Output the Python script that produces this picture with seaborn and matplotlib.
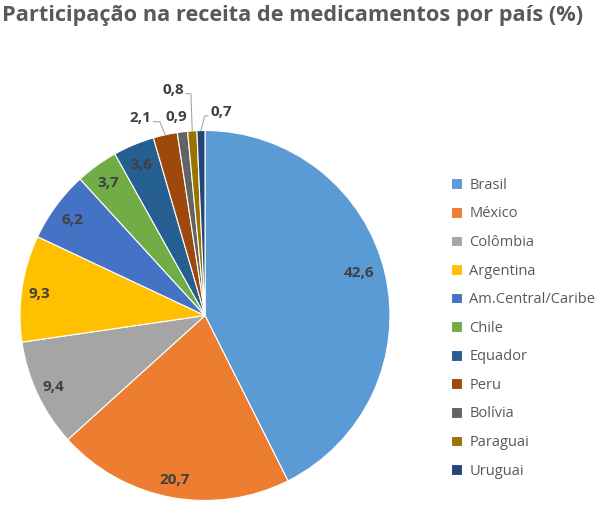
import numpy as np
import matplotlib
matplotlib.use("Agg")
import matplotlib.pyplot as plt
import seaborn as sns

# dados do gráfico
paises = ["Brasil", "México", "Colômbia", "Argentina", "Am.Central/Caribe", "Chile",
          "Equador", "Peru", "Bolívia", "Paraguai", "Uruguai"]
participacao = [42.6, 20.7, 9.4, 9.3, 6.2, 3.7, 3.6, 2.1, 0.9, 0.8, 0.7]
rotulos = ["42,6", "20,7", "9,4", "9,3", "6,2", "3,7", "3,6", "2,1", "0,9", "0,8", "0,7"]

cores = ["#5B9BD5", "#ED7D31", "#A5A5A5", "#FFC000", "#4472C4", "#70AD47",
         "#255E91", "#9E480E", "#636363", "#997300", "#264478"]

# posição dos rótulos (raio relativo, ajuste de ângulo em graus)
raio_rotulo = [0.863, 0.905, 0.903, 0.905, 0.883, 0.885, 0.883, 1.124, 1.084, 1.231, 1.103]
ajuste_ang = [2.1, 0, 0, 1.1, 0.6, 0.2, 0.2, 5.8, 1.2, 4.1, -5.8]
# rótulos com linha de chamada: índice -> lado da linha (+1 direita, -1 esquerda), trecho horizontal
chamadas = {7: (1, 0.036), 9: (1, 0.026), 10: (-1, -0.018)}

sns.set_theme(style="white")
plt.rcParams['font.family'] = ['Open Sans', 'DejaVu Sans']

fig = plt.figure(figsize=(6, 5.07), dpi=100)
ax = fig.add_axes([20 / 600, 6 / 507, 370 / 600, 371 / 507])

wedges, _ = ax.pie(participacao, colors=cores, startangle=90, counterclock=False,
                   radius=1.0, wedgeprops=dict(edgecolor="white", linewidth=0.8))
ax.set_xlim(-1, 1)
ax.set_ylim(-1, 1)
ax.set_aspect("equal")
ax.axis("off")

textos = []
for w, txt, r, da in zip(wedges, rotulos, raio_rotulo, ajuste_ang):
    ang = np.deg2rad((w.theta1 + w.theta2) / 2 + da)
    x, y = r * np.cos(ang), r * np.sin(ang)
    t = ax.text(x, y, txt, ha="center", va="center", fontsize=11, fontweight="bold",
                color="#404040")
    textos.append(t)

# linhas de chamada dos rótulos pequenos
fig.canvas.draw()
inv = ax.transData.inverted()
for i, (lado, trecho) in chamadas.items():
    w = wedges[i]
    ang = np.deg2rad((w.theta1 + w.theta2) / 2)
    ex, ey = np.cos(ang), np.sin(ang)
    bb = textos[i].get_window_extent().transformed(inv)
    ty = (bb.y0 + bb.y1) / 2 - 0.02
    sx = bb.x1 + 0.012 if lado > 0 else bb.x0 - 0.012
    ax.plot([sx, sx + trecho, ex], [ty, ty, ey], color="#A6A6A6", lw=0.8,
            clip_on=False, solid_joinstyle="miter")

fig.text(0.003, 0.99, "Participação na receita de medicamentos por país (%)",
         fontsize=15.7, fontweight="bold", color="#595959", ha="left", va="top")

leg = fig.legend(wedges, paises, loc="upper left", bbox_to_anchor=(0.73, 0.675),
                 frameon=False, fontsize=10.5, labelspacing=0.93,
                 handlelength=0.75, handleheight=0.75, handletextpad=0.5)
for t in leg.get_texts():
    t.set_color("#595959")

fig.savefig("out.png", dpi=100)
